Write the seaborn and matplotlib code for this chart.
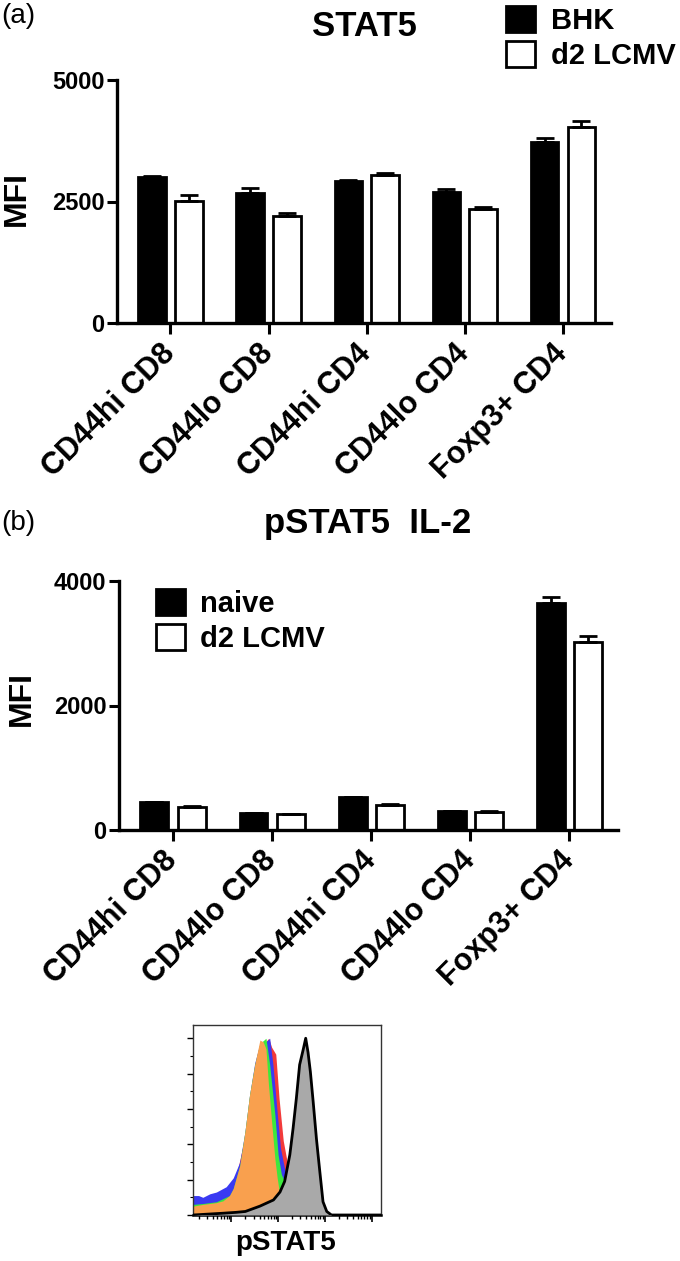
import numpy as np
import pandas as pd
import seaborn as sns
import matplotlib
matplotlib.use("Agg")
import matplotlib.pyplot as plt
from matplotlib.ticker import LogLocator, NullFormatter, MultipleLocator

# ---------------- data ----------------
cells = ["CD44hi CD8", "CD44lo CD8", "CD44hi CD4", "CD44lo CD4", "Foxp3+ CD4"]

stat5_groups = ["BHK", "d2 LCMV"]
stat5_bhk = [3010, 2665, 2925, 2695, 3720]
stat5_bhk_err = [20, 110, 10, 70, 90]
stat5_lcmv = [2515, 2210, 3035, 2355, 4025]
stat5_lcmv_err = [120, 60, 60, 25, 130]

pstat5_groups = ["naive", "d2 LCMV"]
pstat5_naive = [445, 270, 525, 305, 3645]
pstat5_naive_err = [10, 8, 10, 8, 90]
pstat5_lcmv = [370, 250, 405, 295, 3025]
pstat5_lcmv_err = [10, 8, 8, 8, 85]

# flow histograms: log10 pSTAT5 intensity and % of max
red_log = [1.18, 1.40, 1.70, 2.00, 2.30, 2.50, 2.70, 2.80, 2.86, 2.95, 3.02, 3.11, 3.18, 3.25, 3.35, 3.50, 3.70]
red_pct = [5, 6, 7, 10, 45, 82, 97, 100, 95, 91, 66, 42, 32, 20, 8, 2, 0]
blue_log = [1.18, 1.185, 1.19, 1.30, 1.39, 1.54, 1.68, 1.82, 1.89, 2.04, 2.18, 2.29, 2.39, 2.50, 2.61, 2.74, 2.82, 2.89, 2.98, 3.05, 3.11, 3.20, 3.30, 3.45, 3.70]
blue_pct = [100, 100, 11, 11, 10, 12, 13, 15, 16, 21, 30, 47, 68, 86, 97, 98, 100, 85, 58, 38, 30, 18, 8, 2, 0]
green_log = [1.18, 1.39, 1.68, 1.96, 2.04, 2.18, 2.29, 2.39, 2.50, 2.61, 2.74, 2.82, 2.93, 3.00, 3.07, 3.14, 3.18, 3.25, 3.35, 3.50, 3.70]
green_pct = [6, 6.5, 7.5, 11, 15, 28, 47, 68, 85, 97, 100, 85, 57, 34, 23, 19, 22, 12, 4, 1, 0]
orange_log = [1.18, 1.39, 1.68, 1.82, 1.96, 2.04, 2.18, 2.29, 2.39, 2.50, 2.61, 2.68, 2.74, 2.79, 2.86, 2.93, 2.98, 3.02, 3.11, 3.18, 3.30, 3.50]
orange_pct = [5, 6, 7, 8, 11, 15, 28, 47, 68, 85, 99, 98, 94, 75, 53, 32, 21, 14, 7, 4, 1, 0]
gray_log = [1.18, 1.50, 1.82, 2.10, 2.30, 2.61, 2.90, 3.04, 3.14, 3.25, 3.32, 3.39, 3.46, 3.54, 3.59, 3.64, 3.69, 3.75, 3.82, 3.89, 3.96, 4.04, 4.14, 5.20]
gray_pct = [0, 0.5, 1, 1.5, 2, 5, 8.5, 13, 19, 34, 49, 66, 85, 94, 100, 92, 81, 64, 43, 25, 7.5, 2, 0, 0]

# ---------------- style ----------------
sns.set_style("ticks")
plt.rcParams["font.family"] = ["Liberation Sans", "DejaVu Sans"]
plt.rcParams["font.weight"] = "bold"
for k in ["text.color", "axes.labelcolor", "xtick.color", "ytick.color", "axes.edgecolor"]:
    plt.rcParams[k] = "black"

W, H = 680, 1261
fig = plt.figure(figsize=(W / 100, H / 100), dpi=100)


def fx(px):
    return px / W


def fy(py):
    return 1 - py / H


def bar_panel(ax, v1, e1, v2, e2, groups, ymax, yticks):
    df = pd.DataFrame({
        "cell": cells * 2,
        "MFI": list(v1) + list(v2),
        "group": [groups[0]] * len(cells) + [groups[1]] * len(cells),
    })
    sns.barplot(data=df, x="cell", y="MFI", hue="group", order=cells,
                hue_order=groups, palette={groups[0]: "black", groups[1]: "white"},
                edgecolor="black", linewidth=2.0, width=0.75, gap=0.25,
                errorbar=None, ax=ax, legend=True, saturation=1)
    for cont, errs in zip(ax.containers, [e1, e2]):
        xs = [p.get_x() + p.get_width() / 2 for p in cont.patches]
        hs = [p.get_height() for p in cont.patches]
        ax.errorbar(xs, hs, yerr=[np.zeros(len(errs)), errs], fmt="none",
                    ecolor="black", elinewidth=2, capsize=6.5, capthick=2, zorder=1)
    ax.set_ylim(0, ymax)
    ax.set_xlim(-0.545, 4.49)
    ax.set_yticks(yticks)
    ax.set_yticklabels([str(t) for t in yticks], fontsize=17, fontweight="bold")
    ax.set_xticks(range(len(cells)))
    ax.set_xticklabels(cells, rotation=45, ha="right", va="center",
                       rotation_mode="anchor", fontsize=22, fontweight="bold")
    ax.tick_params(axis="x", length=8, width=2.2, pad=11)
    ax.tick_params(axis="y", length=7, width=2.2, pad=2)
    ax.set_xlabel("")
    ax.set_ylabel("")
    for s in ["left", "bottom"]:
        ax.spines[s].set_linewidth(2.4)
    sns.despine(ax=ax)


# ---- panel (a) ----
ax1 = fig.add_axes([fx(117), fy(323), fx(611) - fx(117), fy(80) - fy(323)])
bar_panel(ax1, stat5_bhk, stat5_bhk_err, stat5_lcmv, stat5_lcmv_err,
          stat5_groups, 5000, [0, 2500, 5000])
h, l = ax1.get_legend_handles_labels()
ax1.get_legend().remove()
fig.legend(h, l, loc="upper left", bbox_to_anchor=(fx(506), fy(6)),
           frameon=False, handlelength=1.0, handleheight=1.0,
           handletextpad=0.55, labelspacing=0.2, borderpad=0, borderaxespad=0,
           prop={"weight": "bold", "size": 21})
fig.text(fx(1), fy(16), "(a)", fontsize=20, fontweight="normal", va="center", ha="left")
fig.text(fx(364), fy(27), "STAT5", fontsize=25, fontweight="bold", va="center", ha="center")
fig.text(fx(17), fy(198), "MFI", fontsize=23, fontweight="bold", rotation=90,
         va="center", ha="center")

# ---- panel (b) ----
ax2 = fig.add_axes([fx(119), fy(830), fx(618) - fx(119), fy(581) - fy(830)])
bar_panel(ax2, pstat5_naive, pstat5_naive_err, pstat5_lcmv, pstat5_lcmv_err,
          pstat5_groups, 4000, [0, 2000, 4000])
h, l = ax2.get_legend_handles_labels()
ax2.get_legend().remove()
fig.legend(h, l, loc="upper left", bbox_to_anchor=(fx(156), fy(589)),
           frameon=False, handlelength=1.0, handleheight=1.0,
           handletextpad=0.5, labelspacing=0.2, borderpad=0, borderaxespad=0,
           prop={"weight": "bold", "size": 21})
fig.text(fx(1), fy(523), "(b)", fontsize=20, fontweight="normal", va="center", ha="left")
fig.text(fx(368), fy(523), "pSTAT5  IL-2", fontsize=25, fontweight="bold",
         va="center", ha="center")
fig.text(fx(22), fy(698), "MFI", fontsize=23, fontweight="bold", rotation=90,
         va="center", ha="center")

# ---- flow histogram ----
ax3 = fig.add_axes([fx(193), fy(1215), fx(381) - fx(193), fy(1025) - fy(1215)])
curves = [
    (red_log, red_pct, "#f23a3a"),
    (blue_log, blue_pct, "#3a3af2"),
    (green_log, green_pct, "#3de83d"),
    (orange_log, orange_pct, "#f9a04e"),
]
for lg, pct, col in curves:
    xv = 10 ** np.array(lg)
    ax3.fill_between(xv, 0, pct, color=col, linewidth=0, zorder=2)
gx = 10 ** np.array(gray_log)
ax3.fill_between(gx, 0, gray_pct, color="#a9a9a9", linewidth=0, zorder=3)
sns.lineplot(x=gx, y=gray_pct, color="black", linewidth=2.0, ax=ax3, zorder=4,
             sort=False, estimator=None)
ax3.set_xscale("log")
ax3.set_xlim(10 ** 1.18, 10 ** 5.2)
ax3.set_ylim(0, 107.5)
ax3.xaxis.set_major_locator(LogLocator(base=10, numticks=10))
ax3.xaxis.set_minor_locator(LogLocator(base=10, subs=np.arange(2, 10), numticks=50))
ax3.xaxis.set_major_formatter(NullFormatter())
ax3.xaxis.set_minor_formatter(NullFormatter())
ax3.yaxis.set_major_locator(MultipleLocator(20))
ax3.yaxis.set_minor_locator(MultipleLocator(10))
ax3.yaxis.set_major_formatter(NullFormatter())
ax3.tick_params(axis="x", which="major", length=5, width=1.2, direction="out")
ax3.tick_params(axis="x", which="minor", length=3, width=1.0, direction="out")
ax3.tick_params(axis="y", which="major", length=4, width=1.0, direction="out")
ax3.tick_params(axis="y", which="minor", length=2, width=0.8, direction="out")
for s in ["top", "right", "left"]:
    ax3.spines[s].set_linewidth(1.0)
    ax3.spines[s].set_color("#333333")
ax3.spines["bottom"].set_linewidth(1.8)
ax3.set_xlabel("")
ax3.set_ylabel("")
fig.text(fx(286), fy(1243), "pSTAT5", fontsize=20, fontweight="bold",
         va="center", ha="center")

fig.savefig("out.png", dpi=100)
